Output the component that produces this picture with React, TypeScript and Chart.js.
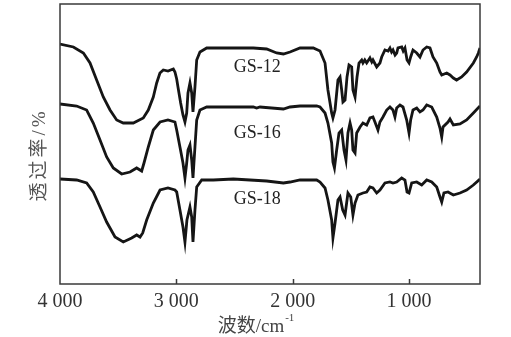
import React, { useEffect, useRef } from "react";
import { Chart, registerables } from "chart.js";

Chart.register(...registerables);

// Wavenumber (cm^-1) and transmittance (arbitrary, offset units)
const gs12Wavenumbers = [4000, 3885, 3799, 3742, 3685, 3628, 3570, 3513, 3456, 3370, 3284, 3241, 3198, 3169, 3141, 3112, 3072, 3026, 3012, 2997, 2986, 2963, 2943, 2926, 2911, 2900, 2883, 2868, 2857, 2840, 2825, 2797, 2739, 2510, 2338, 2224, 2138, 2080, 2023, 1937, 1823, 1765, 1722, 1697, 1665, 1654, 1636, 1611, 1593, 1579, 1568, 1550, 1533, 1516, 1493, 1482, 1464, 1447, 1430, 1407, 1396, 1380, 1364, 1336, 1320, 1310, 1278, 1250, 1235, 1207, 1180, 1164, 1150, 1138, 1120, 1106, 1095, 1063, 1050, 1035, 1017, 1000, 986, 966, 934, 906, 880, 848, 820, 794, 762, 734, 719, 676, 648, 619, 591, 548, 505, 447, 419, 404, 390];
const gs12Values = [240, 237, 231, 221, 204, 187, 174, 164, 161, 161, 166, 174, 187, 201, 211, 214, 213, 215, 212, 205, 197, 181, 169, 162, 171, 191, 201, 191, 172, 197, 224, 232, 236, 236, 236, 235, 231, 230, 232, 236, 236, 233, 221, 194, 171, 166, 174, 204, 207, 194, 182, 184, 207, 219, 217, 194, 187, 207, 221, 224, 221, 224, 221, 226, 222, 224, 217, 221, 227, 234, 233, 236, 232, 234, 229, 231, 236, 237, 233, 236, 224, 221, 227, 234, 231, 227, 234, 237, 236, 227, 221, 212, 209, 211, 209, 206, 204, 207, 212, 221, 227, 231, 236];

const gs16Wavenumbers = [4000, 3857, 3771, 3714, 3656, 3599, 3542, 3470, 3398, 3341, 3298, 3278, 3241, 3198, 3140, 3072, 3012, 2997, 2969, 2943, 2926, 2911, 2900, 2883, 2868, 2857, 2840, 2825, 2797, 2739, 2510, 2338, 2310, 2281, 2080, 2023, 1937, 1794, 1765, 1722, 1697, 1665, 1654, 1641, 1622, 1602, 1579, 1559, 1542, 1525, 1507, 1493, 1482, 1464, 1450, 1421, 1396, 1364, 1336, 1310, 1293, 1267, 1250, 1224, 1192, 1164, 1138, 1121, 1106, 1078, 1052, 1020, 1000, 986, 966, 934, 906, 880, 848, 805, 762, 734, 719, 708, 665, 648, 619, 562, 505, 447, 390];
const gs16Values = [180, 178, 174, 161, 144, 127, 116, 110, 112, 116, 113, 121, 137, 154, 162, 164, 162, 154, 137, 121, 106, 121, 134, 139, 124, 106, 137, 164, 174, 177, 177, 177, 176, 177, 175, 177, 178, 178, 177, 171, 161, 141, 122, 116, 134, 151, 154, 134, 124, 151, 161, 154, 134, 131, 151, 157, 161, 159, 166, 167, 162, 154, 162, 167, 174, 177, 174, 167, 176, 179, 177, 164, 151, 164, 174, 176, 172, 174, 179, 177, 167, 156, 147, 157, 162, 165, 159, 160, 164, 171, 178];

const gs18Wavenumbers = [4000, 3857, 3771, 3714, 3656, 3599, 3527, 3456, 3384, 3341, 3312, 3289, 3255, 3198, 3140, 3072, 3012, 2997, 2969, 2943, 2926, 2909, 2883, 2868, 2857, 2840, 2825, 2782, 2682, 2510, 2224, 2080, 2023, 1937, 1794, 1765, 1722, 1697, 1665, 1654, 1636, 1611, 1593, 1570, 1550, 1525, 1501, 1482, 1464, 1439, 1396, 1364, 1336, 1310, 1278, 1250, 1207, 1164, 1138, 1106, 1063, 1035, 1017, 1000, 977, 934, 891, 848, 805, 762, 734, 719, 700, 665, 619, 562, 505, 447, 390];
const gs18Values = [105, 104, 101, 92, 77, 62, 47, 42, 46, 49, 47, 51, 64, 81, 94, 96, 94, 92, 74, 57, 42, 64, 77, 67, 42, 74, 97, 104, 104, 105, 103, 101, 102, 104, 104, 102, 96, 84, 64, 46, 61, 84, 87, 74, 69, 91, 87, 69, 81, 89, 91, 92, 97, 96, 91, 94, 101, 102, 101, 102, 106, 104, 92, 91, 101, 102, 99, 104, 102, 97, 87, 82, 91, 92, 89, 91, 94, 99, 105];

const seriesNames = ["GS-12", "GS-16", "GS-18"];
const seriesLabelWavenumber = 2304;
const seriesLabelValues = [217, 151, 85];

const xTickValues = [4000, 3000, 2000, 1000];
const xMin = 390;
const xMax = 4000;
const yMin = 0;
const yMax = 280;

const xTitleMain = "波数/cm";
const xTitleSup = "-1";
const yTitle = "透过率/%";

const SERIF = "'Liberation Serif', 'Noto Sans CJK SC', serif";
const TEXT = "#333333";

function formatTick(v: number): string {
  const s = String(v);
  return s.length > 3 ? s.slice(0, s.length - 3) + " " + s.slice(-3) : s;
}

function toPoints(xs: number[], ys: number[]) {
  return xs.map((x, i) => ({ x, y: ys[i] }));
}

const decorPlugin = {
  id: "decor",
  afterDraw(chart: any) {
    const { ctx, chartArea } = chart;
    const xs = chart.scales.x;
    const ys = chart.scales.y;
    ctx.save();
    // frame
    ctx.strokeStyle = "#3a3a3a";
    ctx.lineWidth = 1.5;
    ctx.strokeRect(chartArea.left, chartArea.top, chartArea.right - chartArea.left, chartArea.bottom - chartArea.top);
    // inward ticks
    xTickValues.forEach((v) => {
      const px = Math.round(xs.getPixelForValue(v)) + 0.5;
      if (px <= chartArea.left + 2 || px >= chartArea.right - 2) return;
      ctx.beginPath();
      ctx.moveTo(px, chartArea.bottom);
      ctx.lineTo(px, chartArea.bottom - 5);
      ctx.stroke();
    });
    // series labels
    ctx.fillStyle = "#222";
    ctx.font = `18px ${SERIF}`;
    ctx.textAlign = "center";
    ctx.textBaseline = "middle";
    seriesNames.forEach((n, i) => {
      ctx.fillText(n, xs.getPixelForValue(seriesLabelWavenumber), ys.getPixelForValue(seriesLabelValues[i]));
    });
    // x title
    ctx.fillStyle = "#444";
    ctx.textAlign = "left";
    ctx.textBaseline = "alphabetic";
    ctx.font = `19px ${SERIF}`;
    const mainW = ctx.measureText(xTitleMain).width;
    ctx.font = `11px ${SERIF}`;
    const supW = ctx.measureText(xTitleSup).width;
    const total = mainW + supW + 1;
    const cx = 256;
    const startX = cx - total / 2;
    ctx.font = `19px ${SERIF}`;
    ctx.fillText(xTitleMain, startX, 332);
    ctx.font = `11px ${SERIF}`;
    ctx.fillText(xTitleSup, startX + mainW + 1, 321);
    // y title
    ctx.fillStyle = "#555";
    ctx.translate(40, 155);
    ctx.rotate(-Math.PI / 2);
    ctx.textAlign = "center";
    ctx.textBaseline = "middle";
    ctx.font = `19px ${SERIF}`;
    (ctx as any).letterSpacing = "3px";
    ctx.fillText(yTitle, 0, 0);
    ctx.restore();
  },
};

export default function App() {
  const canvasRef = useRef<HTMLCanvasElement | null>(null);

  useEffect(() => {
    const canvas = canvasRef.current;
    if (!canvas) return;
    const lineStyle = {
      borderColor: "#151515",
      borderWidth: 2.8,
      pointRadius: 0,
      tension: 0,
      fill: false,
      borderJoinStyle: "miter" as const,
    };
    const chart = new Chart(canvas, {
      type: "line",
      data: {
        datasets: [
          { label: seriesNames[0], data: toPoints(gs12Wavenumbers, gs12Values), ...lineStyle },
          { label: seriesNames[1], data: toPoints(gs16Wavenumbers, gs16Values), ...lineStyle },
          { label: seriesNames[2], data: toPoints(gs18Wavenumbers, gs18Values), ...lineStyle },
        ],
      },
      options: {
        animation: false,
        responsive: false,
        devicePixelRatio: 1,
        layout: { padding: { left: 60, right: 31, top: 4, bottom: 0 } },
        plugins: { legend: { display: false }, tooltip: { enabled: false } },
        scales: {
          x: {
            type: "linear",
            reverse: true,
            min: xMin,
            max: xMax,
            grid: { display: false, drawTicks: false },
            border: { display: false },
            afterBuildTicks: (scale: any) => {
              scale.ticks = xTickValues.map((v) => ({ value: v }));
            },
            afterFit: (scale: any) => {
              scale.height = 53;
            },
            ticks: {
              autoSkip: false,
              maxRotation: 0,
              padding: 6,
              color: TEXT,
              font: { family: SERIF, size: 20 },
              callback: (v: any) => formatTick(Number(v)),
            },
          },
          y: {
            display: false,
            min: yMin,
            max: yMax,
          },
        },
      },
      plugins: [decorPlugin],
    } as any);
    return () => chart.destroy();
  }, []);

  return (
    <div style={{ position: "fixed", left: 0, top: 0, width: 511, height: 337, background: "#fff" }}>
      <canvas ref={canvasRef} width={511} height={337} style={{ width: 511, height: 337 }} />
    </div>
  );
}
